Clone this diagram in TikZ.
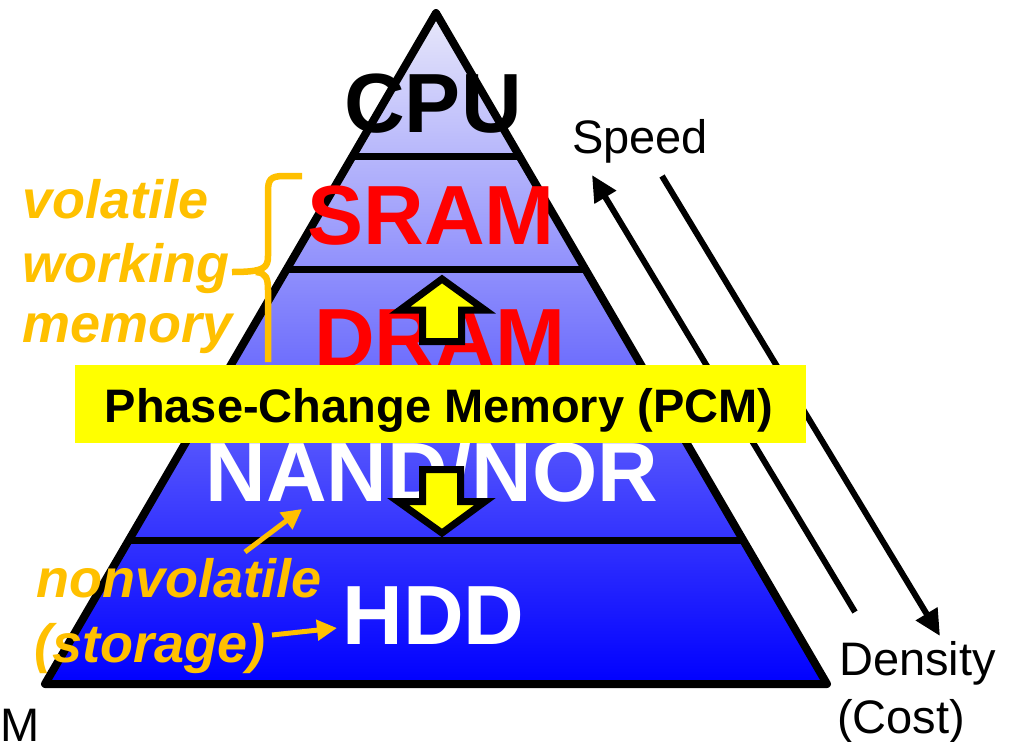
\documentclass[tikz,border=0pt]{standalone}
\usepackage{fontspec}
\setmainfont{Liberation Sans}
\usetikzlibrary{arrows.meta,calc}
\definecolor{orng}{HTML}{FFC000}
\definecolor{ylw}{HTML}{FFFF00}
\definecolor{topblue}{RGB}{232,232,250}
\begin{document}
\begin{tikzpicture}[x=1pt,y=-1pt,
  big/.style={font=\fontsize{84}{90}\selectfont\bfseries, inner sep=0pt, anchor=base},
  lbl/.style={font=\fontsize{47}{52}\selectfont, inner sep=0pt, anchor=base west},
  orlbl/.style={font=\fontsize{54}{60}\selectfont\bfseries\itshape, text=orng, inner sep=0pt, anchor=base west},
  blkarrow/.style={line width=6pt, -{Triangle[length=26pt,width=24pt]}},
  orarrow/.style={draw=orng, line width=5pt, -{Triangle[length=20pt,width=20pt]}},
  blockarr/.style={draw=black, fill=ylw, line width=7pt, line join=miter},
  layerline/.style={line width=7pt}]
\useasboundingbox (0,0) rectangle (1013,742);

% pyramid
\coordinate (apex) at (436,13);
\coordinate (bl) at (45,684);
\coordinate (br) at (827,684);
\path[top color=topblue, bottom color=blue] (apex) -- (br) -- (bl) -- cycle;
\coordinate (l1a) at ($(apex)!0.2146!(bl)$);
\coordinate (l1b) at ($(apex)!0.2146!(br)$);
\coordinate (l2a) at ($(apex)!0.383!(bl)$);
\coordinate (l2b) at ($(apex)!0.383!(br)$);
\coordinate (l3a) at ($(apex)!0.7854!(bl)$);
\coordinate (l3b) at ($(apex)!0.7854!(br)$);
\draw[layerline] (l1a) -- (l1b);
\draw[layerline] (l2a) -- (l2b);
\draw[layerline] (l3a) -- (l3b);
\draw[line width=8pt, line join=round] (apex) -- (br) -- (bl) -- cycle;

% layer labels
\node[big, text=black] (cpu) at (433,132) {CPU};
\node[big, text=red] (sram) at (431,244) {SRAM};
\node[big, text=red] (dram) at (440,367) {DRAM};
\node[big, text=white] (nand) at (432,501) {NAND/NOR};
\node[big, text=white] (hdd) at (433.5,644) {HDD};

% block arrows
\draw[blockarr] (442,279) -- (485,310) -- (461.5,310) -- (461.5,341.5) -- (422.5,341.5) -- (422.5,310) -- (400,310) -- cycle;
\draw[blockarr] (422.5,469.5) -- (460.5,469.5) -- (460.5,501.5) -- (485,501.5) -- (442,533) -- (398,501.5) -- (422.5,501.5) -- cycle;

% speed / density arrows
\node[lbl] (speed) at (572,153) {Speed};
\node[lbl] (density) at (839,675) {Density};
\node[lbl] (cost) at (837,733) {(Cost)};
\node[lbl] (m) at (0,741) {M};
\coordinate (sp0) at (855,612);
\coordinate (sp1) at (592,175);
\coordinate (de0) at (662,176);
\coordinate (de1) at (940,636);
\draw[blkarrow] (sp0) -- (sp1);
\draw[blkarrow] (de0) -- (de1);

% PCM box
\node[fill=ylw, minimum width=731pt, minimum height=78pt, inner sep=0pt] (pcmbox) at (440.5,404) {};
\node[font=\fontsize{47}{52}\selectfont\bfseries, inner sep=0pt, anchor=base] (pcm) at (439,422) {Phase-Change Memory (PCM)};

% brace
\draw[orng, line width=6.5pt, line cap=butt, line join=round]
  (302,176) -- (284,176) .. controls (270,176) and (268,180) .. (268,192)
  -- (268,256) .. controls (268,268) and (264,272) .. (232,272);
\draw[orng, line width=6.5pt, line join=round]
  (256,272) .. controls (266,273) and (268,278) .. (268,290) -- (268,362);

% orange labels
\node[orlbl] (vol) at (22,218) {volatile};
\node[orlbl] (work) at (22,282) {working};
\node[orlbl] (mem) at (22,342) {memory};
\node[orlbl] (nonvol) at (36,597) {nonvolatile};
\node[orlbl] (stor) at (34,662) {(storage)};
\coordinate (oa0) at (245,552);
\coordinate (oa1) at (302,509);
\coordinate (ob0) at (272,635);
\coordinate (ob1) at (337,628);
\draw[orarrow] (oa0) -- (oa1);
\draw[orarrow] (ob0) -- (ob1);
\end{tikzpicture}
\end{document}
